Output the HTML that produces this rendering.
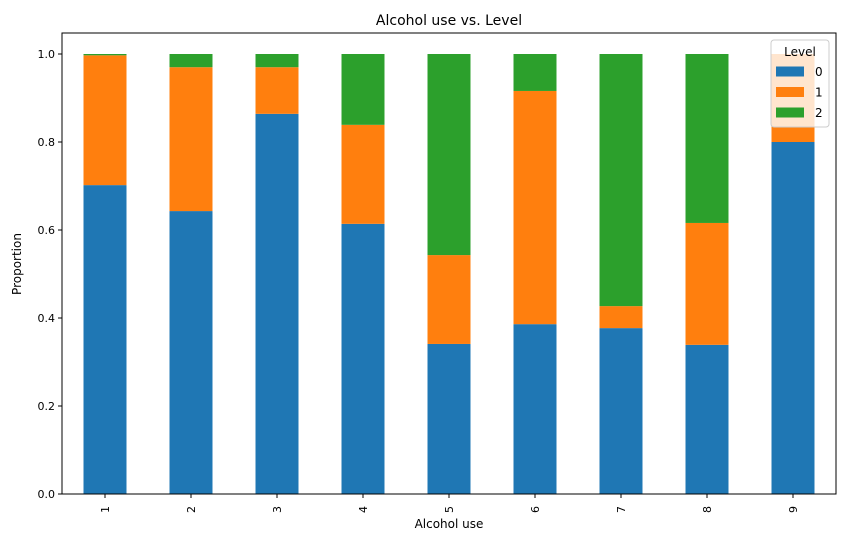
<!DOCTYPE html>
<html><head><meta charset="utf-8"><style>
body{margin:0;background:#fff;font-family:"Liberation Sans","DejaVu Sans",sans-serif;}
svg text{font-family:"DejaVu Sans","Liberation Sans",sans-serif;}
</style></head><body>
<svg id="chart" width="846" height="542" xmlns="http://www.w3.org/2000/svg">
<rect width="846" height="542" fill="#fff"/>
<text x="449" y="25" text-anchor="middle" font-size="14">Alcohol use vs. Level</text>
<g id="bars"></g>
<g id="axes"></g>
</svg>
<script>
const categories=["1","2","3","4","5","6","7","8","9"];
const level0=[0.702,0.643,0.864,0.614,0.341,0.386,0.377,0.339,0.800];
const level1=[0.295,0.327,0.106,0.225,0.202,0.530,0.050,0.277,0.200];
const level2=[0.003,0.030,0.030,0.161,0.457,0.084,0.573,0.384,0.000];
const yTicks=[0,0.2,0.4,0.6,0.8,1.0];
const colors=["#1f77b4","#ff7f0e","#2ca02c"];
const L=62,R=836,T=33,B=494;
const ns="http://www.w3.org/2000/svg";
const step=(R-L)/categories.length;
function xC(i){return L+step*(i+0.5);}
function yS(v){return B-v*440;}
function mk(tag,attrs,parent){const e=document.createElementNS(ns,tag);for(const k in attrs)e.setAttribute(k,attrs[k]);parent.appendChild(e);return e;}
const bars=document.getElementById('bars'),axes=document.getElementById('axes');
const series=[level0,level1,level2];
categories.forEach((c,i)=>{let base=0;series.forEach((s,j)=>{const v=s[i];
const r=mk('rect',{x:xC(i)-step*0.25,width:step*0.5,y:yS(base+v),height:yS(base)-yS(base+v),fill:colors[j]},bars);


base+=v;});});
const frame=mk('rect',{x:L,y:T,width:R-L,height:B-T,fill:'none',stroke:'#000','stroke-width':1},axes);


yTicks.forEach(t=>{const y=yS(t);mk('line',{x1:L-4,x2:L,y1:y,y2:y,stroke:'#000'},axes);
const tx=mk('text',{x:L-7,y:y+4,'text-anchor':'end','font-size':11},axes);tx.textContent=t.toFixed(1);

});
categories.forEach((c,i)=>{const x=xC(i);mk('line',{x1:x,x2:x,y1:B,y2:B+4,stroke:'#000'},axes);
const tx=mk('text',{x:x+4,y:B+14,'text-anchor':'middle','font-size':11,transform:`rotate(-90 ${x+4} ${B+14})`,'dominant-baseline':'auto'},axes);
tx.setAttribute('x',x+4);tx.setAttribute('y',B+12);tx.setAttribute('transform',`rotate(-90 ${x} ${B+12})`);tx.setAttribute('text-anchor','end');tx.setAttribute('x',x);tx.setAttribute('dy','4');
tx.textContent=c;

});
const xt=mk('text',{x:449,y:528,'text-anchor':'middle','font-size':12},axes);xt.textContent='Alcohol use';


const yt=mk('text',{x:21,y:264,'text-anchor':'middle','font-size':12,transform:'rotate(-90 21 264)'},axes);yt.textContent='Proportion';


const lg=mk('g',{},axes);


mk('rect',{x:771,y:40,width:58,height:87,rx:3,fill:'#fff','fill-opacity':0.8,stroke:'#ccc'},lg);
const lt=mk('text',{x:800,y:56,'text-anchor':'middle','font-size':12},lg);lt.textContent='Level';
['0','1','2'].forEach((n,j)=>{const y=[71.5,92,112.5][j];
const p=mk('rect',{x:776,y:y-5,width:28,height:10,fill:colors[j]},lg);


const t=mk('text',{x:815,y:y+4.5,'font-size':12},lg);t.textContent=n;});
</script>
</body></html>
